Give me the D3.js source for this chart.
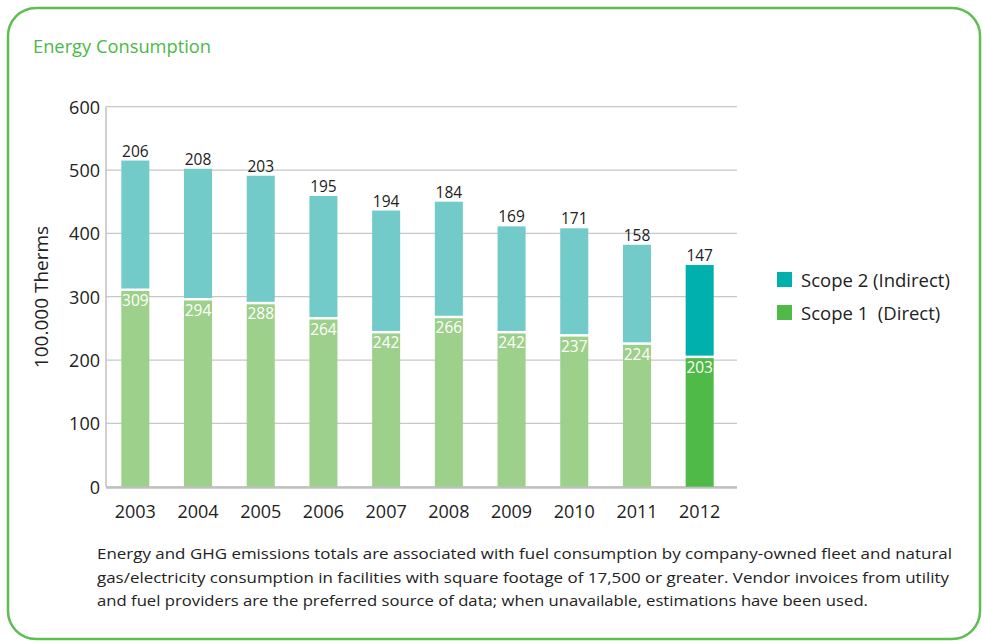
<!DOCTYPE html>
<html><head><meta charset="utf-8">
<script src="https://cdn.jsdelivr.net/npm/d3@7"></script>
<style>body{margin:0;background:#fff;}svg{display:block;font-family:"Open Sans",sans-serif;}</style>
</head><body><svg id="c" width="982" height="642"></svg>
<script>
const years = ["2003","2004","2005","2006","2007","2008","2009","2010","2011","2012"];
const scope1 = [309,294,288,264,242,266,242,237,224,203];
const scope2 = [206,208,203,195,194,184,169,171,158,147];
const yTicks = [0,100,200,300,400,500,600];
const seriesNames = ["Scope 2 (Indirect)","Scope 1\u00a0\u00a0(Direct)"];
const footnote = [
 "Energy and GHG emissions totals are associated with fuel consumption by company-owned fleet and natural",
 "gas/electricity consumption in facilities with square footage of 17,500 or greater. Vendor invoices from utility",
 "and fuel providers are the preferred source of data; when unavailable, estimations have been used."
];
const footLen = [855, 852, 771];

const svg = d3.select("#c");
svg.append("rect").attr("x",8).attr("y",8).attr("width",972).attr("height",631).attr("rx",28)
  .attr("fill","none").attr("stroke","#5cbf4f").attr("stroke-width",2.5);
svg.append("text").attr("x",33).attr("y",53).attr("fill","#4cb847").attr("font-size",18.3).text("Energy Consumption");

const x = d3.scaleBand().domain(years).range([104,731]).paddingInner(0.553).paddingOuter(0.276);
const y = d3.scaleLinear().domain([0,600]).range([486.7,106.7]);
const gridX0 = 106, gridX1 = 737;

svg.append("g").selectAll("line").data(yTicks).join("line")
  .attr("x1",gridX0).attr("x2",gridX1).attr("y1",d=>y(d)).attr("y2",d=>y(d))
  .attr("stroke","#c8c8c8").attr("stroke-width",1.3);
svg.append("line").attr("x1",gridX0).attr("x2",gridX0).attr("y1",y(600)).attr("y2",y(0))
  .attr("stroke","#c0c0c0").attr("stroke-width",1.5);
svg.append("line").attr("x1",gridX0).attr("x2",gridX1).attr("y1",y(0)+1).attr("y2",y(0)+1)
  .attr("stroke","#c0c0c0").attr("stroke-width",2);

svg.append("g").selectAll("text").data(yTicks).join("text")
  .attr("x",100).attr("y",d=>y(d)+7).attr("text-anchor","end").attr("font-size",18).attr("fill","#222")
  .text(d=>d);

svg.append("text").attr("transform","translate(48,297) rotate(-90)").attr("text-anchor","middle")
  .attr("font-size",19).attr("fill","#222").text("100.000 Therms");

const last = years.length-1;
const c1 = (i)=> i===last ? "#4fba48" : "#9dd08a";
const c2 = (i)=> i===last ? "#00b0ad" : "#72cac9";

const g = svg.append("g");
years.forEach((yr,i)=>{
  const bx = x(yr), bw = x.bandwidth();
  const s1 = scope1[i], s2 = scope2[i];
  g.append("rect").attr("x",bx).attr("width",bw).attr("y",y(s1)).attr("height",y(0)-y(s1)).attr("fill",c1(i));
  g.append("rect").attr("x",bx).attr("width",bw).attr("y",y(s1+s2)).attr("height",y(s1)-y(s1+s2)-2.5).attr("fill",c2(i));
  g.append("text").attr("x",bx+bw/2).attr("y",y(s1)+15).attr("text-anchor","middle").attr("font-size",15.5)
    .attr("fill","#fff").text(s1);
  g.append("text").attr("x",bx+bw/2).attr("y",y(s1+s2)-4).attr("text-anchor","middle").attr("font-size",15.5)
    .attr("fill","#222").text(s2);
  g.append("text").attr("x",bx+bw/2).attr("y",518).attr("text-anchor","middle").attr("font-size",18)
    .attr("fill","#222").text(yr);
});

const leg = svg.append("g");
[[0,"#00b0ad"],[1,"#4fba48"]].forEach(([k,col])=>{
  leg.append("rect").attr("x",777).attr("y",272+k*33).attr("width",15).attr("height",15).attr("fill",col);
  leg.append("text").attr("x",801).attr("y",286.5+k*33).attr("font-size",18.5).attr("fill","#222").text(seriesNames[k]);
});

footnote.forEach((t,i)=>{
  svg.append("text").attr("x",97).attr("y",559+i*23.5).attr("font-size",15).attr("fill","#222")
    .attr("textLength",footLen[i]).attr("lengthAdjust","spacingAndGlyphs").text(t);
});
</script></body></html>
